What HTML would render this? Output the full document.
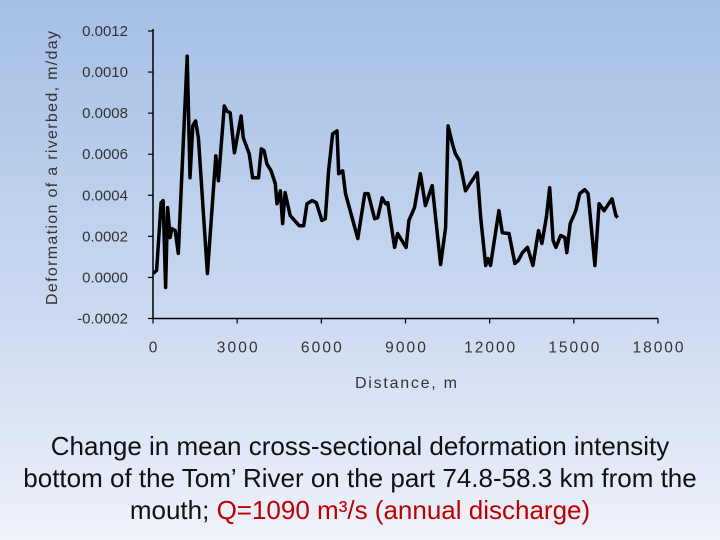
<!DOCTYPE html>
<html><head><meta charset="utf-8"><style>
html,body{margin:0;padding:0}
body{width:720px;height:540px;overflow:hidden;background:linear-gradient(#a5bfe6,#c9d8f0 55%,#eef2fa);font-family:"Liberation Sans",sans-serif;position:relative}
#cap{position:absolute;left:0;top:430px;width:720px;text-align:center;font-size:26px;line-height:32px;color:#111;white-space:nowrap}
.red{color:#c00000}
</style></head><body>
<svg id="chart" width="720" height="420" style="position:absolute;left:0;top:0"></svg>
<div id="cap">Change in mean cross-sectional deformation intensity<br>bottom of the Tom’ River on the part 74.8-58.3 km from the<br>mouth; <span class="red">Q=1090 m³/s (annual discharge)</span></div>
<script>
const distances=[10,130,290,360,450,520,610,670,790,900,1220,1320,1420,1520,1620,1940,2240,2330,2540,2630,2750,2900,3140,3220,3430,3550,3760,3860,3960,4060,4210,4360,4420,4540,4620,4710,4890,5210,5370,5490,5670,5820,6020,6140,6260,6400,6560,6620,6760,6860,7300,7550,7670,7900,8010,8170,8290,8370,8610,8720,9020,9120,9320,9530,9710,9950,10250,10430,10520,10670,10780,10930,11140,11320,11560,11680,11860,11940,12030,12330,12450,12690,12900,13020,13170,13350,13540,13740,13860,14020,14140,14260,14360,14530,14680,14750,14870,15070,15210,15390,15510,15750,15900,16080,16360,16500,16560];
const deformation=[0.000019,0.000034,0.000364,0.000374,-0.000049,0.00034,0.000194,0.000238,0.000228,0.000117,0.001078,0.000485,0.000738,0.000762,0.00068,0.000019,0.000592,0.000471,0.000835,0.000811,0.000801,0.000607,0.000786,0.00068,0.000602,0.000485,0.000485,0.000626,0.000617,0.000553,0.000519,0.000456,0.000359,0.000422,0.000262,0.000413,0.000301,0.000252,0.000252,0.000359,0.000374,0.000364,0.000277,0.000286,0.000519,0.000699,0.000714,0.000505,0.000519,0.000408,0.000189,0.000408,0.000408,0.000286,0.000291,0.000388,0.000359,0.000364,0.000146,0.000214,0.000146,0.000277,0.00034,0.000505,0.00035,0.000447,0.000063,0.000243,0.000738,0.00065,0.000602,0.000568,0.000422,0.000461,0.00051,0.000291,0.000058,0.000092,0.000058,0.000325,0.000218,0.000214,0.000068,0.000083,0.000121,0.000146,0.000058,0.000228,0.000165,0.000291,0.000437,0.00018,0.000146,0.000204,0.000194,0.000121,0.000262,0.000325,0.000408,0.000427,0.000408,0.000058,0.000359,0.000325,0.000383,0.000301,0.000291];
const yTicks=[-0.0002,0,0.0002,0.0004,0.0006,0.0008,0.0010,0.0012];
const yTickLabels=["-0.0002","0.0000","0.0002","0.0004","0.0006","0.0008","0.0010","0.0012"];
const xTicks=[0,3000,6000,9000,12000,15000,18000];
const NS="http://www.w3.org/2000/svg";
const svg=document.getElementById('chart');
const X0=153,X1=658,Y0=318.5,Y1=31;
const xs=d=>X0+(d-0)/18000*(X1-X0);
const ys=v=>Y0-(v+0.0002)/0.0014*(Y0-Y1);
function mk(t,a){const e=document.createElementNS(NS,t);for(const k in a)e.setAttribute(k,a[k]);svg.appendChild(e);return e;}
let ax=mk('line',{x1:X0,y1:Y1-2,x2:X0,y2:Y0,stroke:'#000','stroke-width':1.5});


let bx=mk('line',{x1:X0,y1:Y0,x2:X1,y2:Y0,stroke:'#000','stroke-width':1.5});


yTicks.forEach((v,i)=>{const y=ys(v);
 mk('line',{x1:X0-5,y1:y,x2:X0,y2:y,stroke:'#000','stroke-width':1.2});
 const t=mk('text',{x:X0-25,y:y+5,'font-size':15,fill:'#333','text-anchor':'end','font-family':'Liberation Sans, sans-serif'});
 t.textContent=yTickLabels[i];
 
 });
xTicks.forEach(d=>{const x=xs(d);
 mk('line',{x1:x,y1:Y0,x2:x,y2:Y0+5,stroke:'#000','stroke-width':1.2});
 const s=String(d);
 const t=mk('text',{x:x,y:Y0+34,'font-size':15.5,fill:'#333','text-anchor':'middle','font-family':'Liberation Sans, sans-serif',textLength:s.length*10.2,lengthAdjust:'spacing'});
 t.textContent=s;
 
 });
const pts=distances.map((d,i)=>xs(d).toFixed(1)+','+ys(deformation[i]).toFixed(1)).join(' ');
const pl=mk('polyline',{points:pts,fill:'none',stroke:'#000','stroke-width':3.5,'stroke-linejoin':'round'});


const yt=mk('text',{x:0,y:0,transform:'translate(57,168) rotate(-90)','font-size':16,fill:'#333','text-anchor':'middle','font-family':'Liberation Sans, sans-serif',textLength:274,lengthAdjust:'spacing'});
yt.textContent='Deformation of a riverbed, m/day';


const xt=mk('text',{x:406,y:388,'font-size':16,fill:'#333','text-anchor':'middle','font-family':'Liberation Sans, sans-serif',textLength:102,lengthAdjust:'spacing'});
xt.textContent='Distance, m';


</script>
</body></html>
